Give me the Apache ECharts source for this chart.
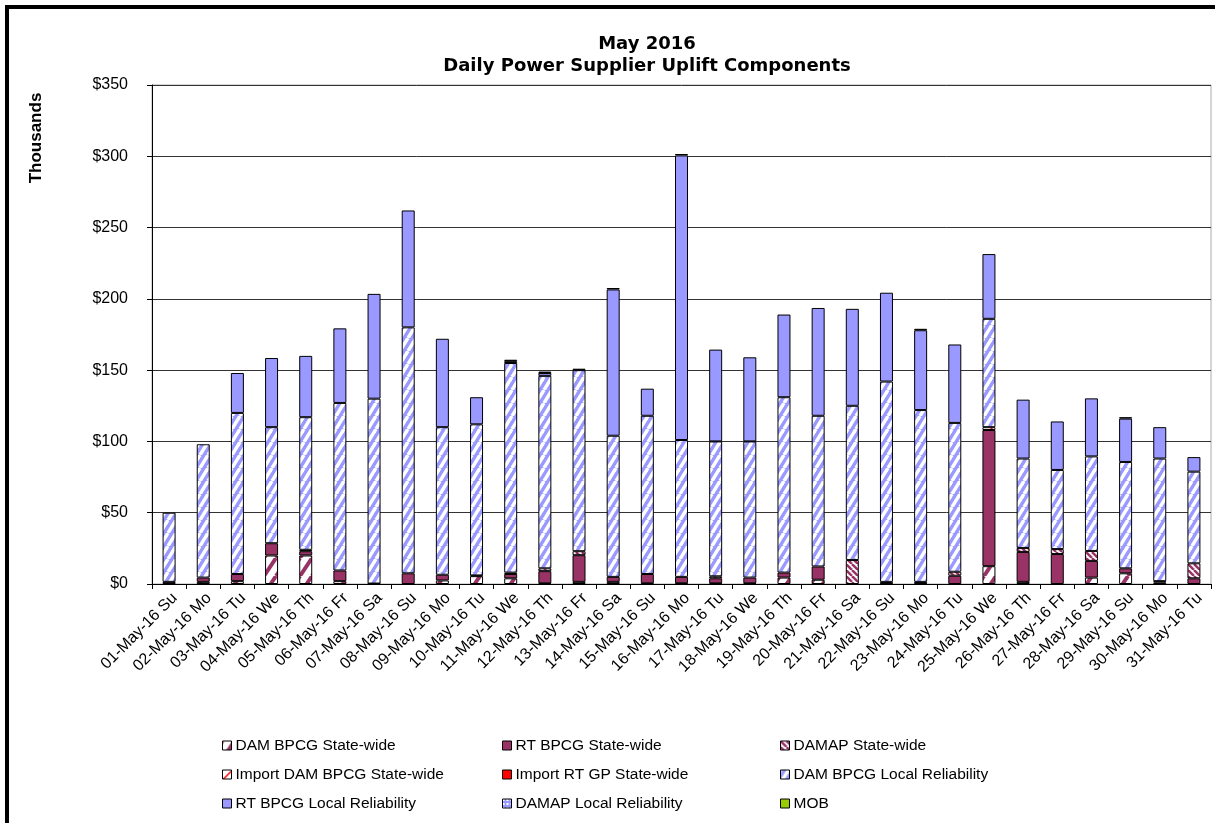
<!DOCTYPE html>
<html>
<head>
<meta charset="utf-8">
<script src="https://cdn.jsdelivr.net/npm/echarts@6/dist/echarts.min.js"></script>
<style>
html, body { margin: 0; padding: 0; background: #fff; }
#chart { width: 1215px; height: 823px; }
</style>
</head>
<body>
<div id="chart"></div>
<script>
// categories
const days = ['01-May-16 Su', '02-May-16 Mo', '03-May-16 Tu', '04-May-16 We', '05-May-16 Th', '06-May-16 Fr',
    '07-May-16 Sa', '08-May-16 Su', '09-May-16 Mo', '10-May-16 Tu', '11-May-16 We', '12-May-16 Th',
    '13-May-16 Fr', '14-May-16 Sa', '15-May-16 Su', '16-May-16 Mo', '17-May-16 Tu', '18-May-16 We',
    '19-May-16 Th', '20-May-16 Fr', '21-May-16 Sa', '22-May-16 Su', '23-May-16 Mo', '24-May-16 Tu',
    '25-May-16 We', '26-May-16 Th', '27-May-16 Fr', '28-May-16 Sa', '29-May-16 Su', '30-May-16 Mo',
    '31-May-16 Tu']

// values in thousands of $
const damBpcgStateWide = [0, 1.5, 2, 20, 20, 2, 0, 0, 2.5, 5.5, 4, 0.5, 1.5, 1.5, 0.5, 0.5, 0.5, 0.5,
    4.5, 3, 0, 0.5, 0.5, 0, 12.5, 1.5, 0, 4.5, 7.5, 1, 0]
const rtBpcgStateWide = [1.5, 3, 5, 8.6, 3, 7.5, 0.3, 7.5, 4, 0, 3, 8.5, 18.7, 3.5, 6.5, 4.5, 3.5, 4,
    3.5, 9.3, 0, 1, 1, 5.8, 95.5, 21, 21, 11.7, 3.5, 1, 4]
const damapStateWide = [0, 0, 0, 0, 1, 0, 0, 0, 0, 0, 1, 2, 2.8, 0, 0, 0, 1.4, 0,
    0, 0, 16.8, 0, 0, 2.8, 0, 2.8, 3.5, 7, 0, 0, 10.5]
const importDamBpcgStateWide = [0, 0, 0, 0, 0, 0, 0, 0, 0, 0.5, 0, 0, 0, 0, 0, 0, 0, 0,
    0, 0, 0, 0, 0, 0, 2, 0, 0, 0, 0, 0, 0]
const importRtGpStateWide = [0, 0, 0, 0, 0, 0, 0, 0, 0, 0, 0, 0, 0, 0, 0, 0, 0, 0,
    0, 0, 0, 0, 0, 0, 0, 0, 0, 0, 0, 0, 0]
const damBpcgLocal = [48.5, 93.5, 113, 81.4, 93, 117.5, 129.7, 172.5, 103.5, 106, 147, 135, 127, 99, 111, 96, 94.6, 95.5,
    123, 105.7, 108.2, 140.5, 120.5, 104.4, 76, 62.7, 55.5, 66.3, 74.6, 86, 64.3]
const rtBpcgLocal = [0, 0, 28, 48.5, 43, 52.3, 73.5, 82, 62, 19, 1.3, 2, 1, 102.6, 19, 199.6, 64.4, 59,
    58, 75.6, 68, 62.3, 56, 55, 45.4, 41.3, 34, 40.7, 30.4, 22, 10.2]
const damapLocal = [0, 0, 0, 0, 0, 0, 0, 0, 0, 0, 1, 1, 0, 1, 0, 1, 0, 0,
    0, 0, 0, 0, 1, 0, 0, 0, 0, 0, 1, 0, 0]
const mob = [0, 0, 0, 0, 0, 0, 0, 0, 0, 0, 0, 0, 0, 0, 0, 0, 0, 0,
    0, 0, 0, 0, 0, 0, 0, 0, 0, 0, 0, 0, 0]

const yTicks = [0, 50, 100, 150, 200, 250, 300, 350]

// diagonal stripe tile, dir 1 = '/', -1 = '\'
function stripes(bg, fg, w, h, lw, dir){
    const c = document.createElement('canvas')
    c.width = w; c.height = h
    const ctx = c.getContext('2d')
    ctx.fillStyle = bg
    ctx.fillRect(0, 0, w, h)
    ctx.strokeStyle = fg
    ctx.lineWidth = lw
    for(let k = -1; k <= 1; k++){
        ctx.beginPath()
        if(dir > 0){
            ctx.moveTo(k * w, h); ctx.lineTo(k * w + w, 0)
        }else{
            ctx.moveTo(k * w, 0); ctx.lineTo(k * w + w, h)
        }
        ctx.stroke()
    }
    return { image: c, repeat: 'repeat' }
}

function dots(bg, fg){
    const c = document.createElement('canvas')
    c.width = 4; c.height = 4
    const ctx = c.getContext('2d')
    ctx.fillStyle = bg
    ctx.fillRect(0, 0, 4, 4)
    ctx.fillStyle = fg
    ctx.fillRect(0, 0, 2, 2)
    return { image: c, repeat: 'repeat' }
}

const maroon = '#993366', blue = '#9999FF'

const seriesDefs = [
    { name: 'DAM BPCG State-wide', data: damBpcgStateWide, color: stripes('#ffffff', maroon, 12, 18, 4, 1) },
    { name: 'RT BPCG State-wide', data: rtBpcgStateWide, color: maroon },
    { name: 'DAMAP State-wide', data: damapStateWide, color: stripes('#ffffff', maroon, 6, 6, 2.5, -1) },
    { name: 'Import DAM BPCG State-wide', data: importDamBpcgStateWide, color: stripes('#ffffff', '#ff0000', 10, 10, 1.5, 1) },
    { name: 'Import RT GP State-wide', data: importRtGpStateWide, color: '#ff0000' },
    { name: 'DAM BPCG Local Reliability', data: damBpcgLocal, color: stripes(blue, '#ffffff', 8, 13, 3.5, 1) },
    { name: 'RT BPCG Local Reliability', data: rtBpcgLocal, color: blue },
    { name: 'DAMAP Local Reliability', data: damapLocal, color: dots(blue, '#ffffff') },
    { name: 'MOB', data: mob, color: '#99CC00' }
]

const series = seriesDefs.map(function(s){
    return {
        name: s.name,
        type: 'bar',
        stack: 'uplift',
        barWidth: 13,
        itemStyle: { color: s.color, borderColor: '#000', borderWidth: 1 },
        emphasis: { disabled: true },
        data: s.data.map(v => v === 0 ? '-' : v)
    }
})

const txt = { fontFamily: 'Liberation Sans', color: '#000' }

function legendCol(left, names){
    return {
        orient: 'vertical',
        left: left,
        top: 737,
        padding: 0,
        icon: 'rect',
        itemWidth: 9,
        itemHeight: 9,
        itemGap: 12,
        itemStyle: { borderColor: '#000', borderWidth: 1 },
        textStyle: Object.assign({ fontSize: 15.5, lineHeight: 17, padding: [0, 0, 0, -1] }, txt),
        data: names
    }
}

const chart = echarts.init(document.getElementById('chart'))
chart.setOption({
    animation: false,
    backgroundColor: '#ffffff',
    title: {
        text: 'May 2016\nDaily Power Supplier Uplift Components',
        left: 642,
        top: 28,
        textAlign: 'center',
        textStyle: { fontFamily: 'DejaVu Sans', fontSize: 18, fontWeight: 'bold', lineHeight: 22, color: '#000' }
    },
    legend: [
        legendCol(222, ['DAM BPCG State-wide', 'Import DAM BPCG State-wide', 'RT BPCG Local Reliability']),
        legendCol(502, ['RT BPCG State-wide', 'Import RT GP State-wide', 'DAMAP Local Reliability']),
        legendCol(780, ['DAMAP State-wide', 'DAM BPCG Local Reliability', 'MOB'])
    ],
    grid: { left: 152, right: 4, top: 85, bottom: 239, show: true, borderColor: '#aaaaaa', borderWidth: 1 },
    xAxis: {
        type: 'category',
        data: days,
        axisLine: { lineStyle: { color: '#000', width: 1 } },
        axisTick: { show: true, length: 5, lineStyle: { color: '#000' } },
        axisLabel: Object.assign({ rotate: 45, interval: 0, fontSize: 16, margin: 6, verticalAlign: 'top' }, txt)
    },
    yAxis: {
        type: 'value',
        min: yTicks[0],
        max: yTicks[yTicks.length - 1],
        interval: 50,
        axisLine: { show: true, lineStyle: { color: '#000', width: 1 } },
        axisTick: { show: true, length: 5, lineStyle: { color: '#000' } },
        splitLine: { lineStyle: { color: '#333', width: 1 } },
        axisLabel: Object.assign({ fontSize: 16, margin: 24, formatter: v => '$' + v }, txt)
    },
    graphic: [{
        type: 'rect',
        shape: { x: 7, y: 7, width: 1240, height: 850 },
        style: { fill: 'none', stroke: '#000', lineWidth: 4 },
        silent: true
    }, {
        type: 'text',
        x: 36,
        y: 138,
        rotation: Math.PI / 2,
        style: { text: 'Thousands', font: 'bold 17px "Liberation Sans"', fill: '#000', align: 'center', verticalAlign: 'middle' }
    }],
    series: series
})
</script>
</body>
</html>
